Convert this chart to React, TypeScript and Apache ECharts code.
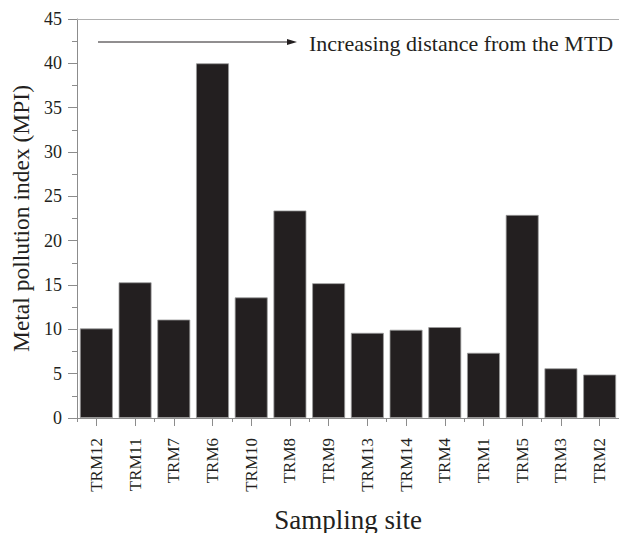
import React, { useEffect, useRef } from "react";
import * as echarts from "echarts";

const categories = ["TRM12", "TRM11", "TRM7", "TRM6", "TRM10", "TRM8", "TRM9", "TRM13", "TRM14", "TRM4", "TRM1", "TRM5", "TRM3", "TRM2"];
const mpiValues = [10.1, 15.3, 11.1, 40.0, 13.6, 23.4, 15.2, 9.6, 9.95, 10.25, 7.35, 22.9, 5.6, 4.9];
const yTicks = { min: 0, max: 45, interval: 5 };
const yAxisTitle = "Metal pollution index (MPI)";
const xAxisTitle = "Sampling site";
const annotationText = "Increasing distance from the MTD";

const FONT = "Liberation Serif";
const TEXT = "#231f20";
const AXIS = "#8c8c8c";

export default function App() {
  const ref = useRef<HTMLDivElement>(null);
  useEffect(() => {
    if (!ref.current) return;
    const chart = echarts.init(ref.current, undefined, { renderer: "svg" });
    chart.setOption({
      animation: false,
      textStyle: { fontFamily: FONT, color: TEXT },
      grid: { left: 77, right: 0, top: 19, bottom: 115, containLabel: false, outerBoundsMode: "none" },
      xAxis: [
        {
          type: "category",
          data: categories,
          position: "bottom",
          name: xAxisTitle,
          nameLocation: "middle",
          nameGap: 88,
          nameTextStyle: { fontFamily: FONT, fontSize: 27, color: TEXT },
          axisLine: { show: true, lineStyle: { color: AXIS, width: 1 } },
          axisTick: { show: true, alignWithLabel: true, length: 8, lineStyle: { color: AXIS } },
          axisLabel: { rotate: 90, fontFamily: FONT, fontSize: 17, color: TEXT, margin: 20 },
          splitLine: { show: false },
        },
        {
          type: "category",
          data: categories,
          position: "bottom",
          axisLine: { show: false },
          axisTick: { show: true, alignWithLabel: false, length: 4, lineStyle: { color: AXIS } },
          axisLabel: { show: false },
          splitLine: { show: false },
        },
        {
          type: "category",
          data: categories,
          position: "top",
          axisLine: { show: true, lineStyle: { color: "#b0b0b0", width: 1 } },
          axisTick: { show: false },
          axisLabel: { show: false },
          splitLine: { show: false },
        },
      ],
      yAxis: {
        type: "value",
        min: yTicks.min,
        max: yTicks.max,
        interval: yTicks.interval,
        name: yAxisTitle,
        nameLocation: "middle",
        nameGap: 44,
        nameTextStyle: { fontFamily: FONT, fontSize: 23.5, color: TEXT },
        axisLine: { show: true, lineStyle: { color: AXIS, width: 1 } },
        axisTick: { show: true, length: 9, lineStyle: { color: AXIS } },
        minorTick: { show: true, splitNumber: 2, length: 5, lineStyle: { color: AXIS } },
        axisLabel: { fontFamily: FONT, fontSize: 18, color: TEXT, margin: 15 },
        splitLine: { show: false },
      },
      series: [
        {
          type: "bar",
          data: mpiValues,
          xAxisIndex: 0,
          barCategoryGap: "15%",
          itemStyle: { color: TEXT, borderColor: "#9a9a9a", borderWidth: 0.8 },
        },
      ],
      graphic: [
        { type: "line", shape: { x1: 98, y1: 42, x2: 290, y2: 42 }, style: { stroke: TEXT, lineWidth: 1 } },
        { type: "polygon", shape: { points: [[287, 39], [297, 42], [287, 45]] }, style: { fill: TEXT } },
        {
          type: "text",
          x: 309,
          y: 43,
          style: { text: annotationText, fontFamily: FONT, fontSize: 22, fill: TEXT, verticalAlign: "middle" },
        },
      ],
    });
    return () => chart.dispose();
  }, []);
  return <div ref={ref} style={{ position: "absolute", left: 0, top: 0, width: 619, height: 533 }} />;
}
